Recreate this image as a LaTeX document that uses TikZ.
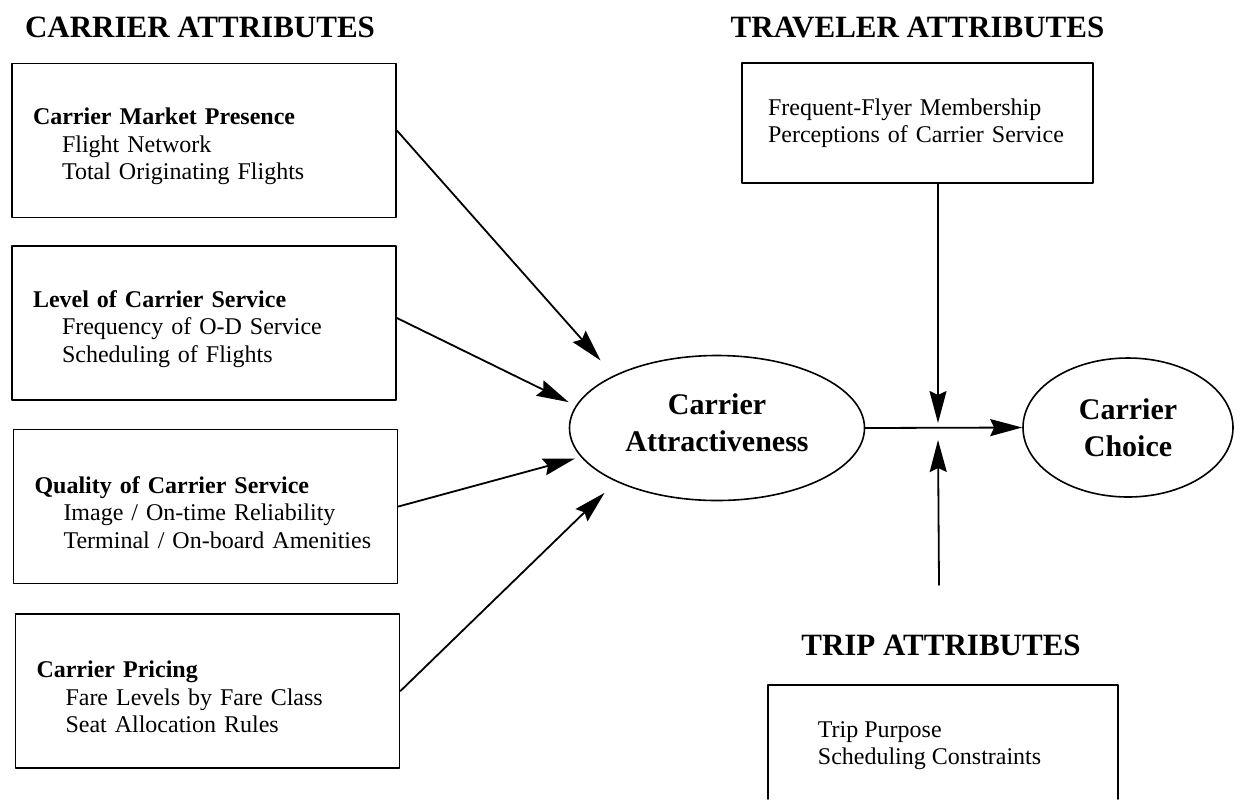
\documentclass[tikz,border=0pt]{standalone}
\usepackage{fontspec}
\setmainfont{Liberation Serif}
\usetikzlibrary{arrows.meta,shapes.geometric}
\begin{document}
\begin{tikzpicture}[x=0.5pt,y=-0.5pt,line join=round,line cap=round,line width=0.9pt,
	>={Stealth[length=16pt,width=8.5pt,inset=2pt]},
	attrbox/.style={draw,minimum height=77pt,text width=171pt,inner xsep=10.5pt,align=left,font=\fontsize{12}{13.75}\selectfont},
	headline/.style={anchor=base,font=\fontsize{15.5}{18}\selectfont\bfseries},
	oval/.style={draw,ellipse,line width=0.8pt,inner sep=0pt,align=center,font=\fontsize{15}{18.5}\selectfont\bfseries}]
	\def\ind{\hspace*{14.5pt}}
	\def\lift{\rule{0pt}{14.5pt}}
	\useasboundingbox (0,0) rectangle (1241,799);
	%Tiêu đề
	\node[headline] (carhead) at (200,37) {CARRIER ATTRIBUTES};
	\node[headline] (travhead) at (917.5,37) {TRAVELER ATTRIBUTES};
	\node[headline] (triphead) at (941,655) {TRIP ATTRIBUTES};
	%Các hộp bên trái
	\node[attrbox] (mkt) at (204,140.5) {\lift\textbf{Carrier Market Presence}\\\ind Flight Network\\\ind Total Originating Flights};
	\node[attrbox] (lvl) at (204,323) {\lift\textbf{Level of Carrier Service}\\\ind Frequency of O-D Service\\\ind Scheduling of Flights};
	\node[attrbox] (qual) at (205.5,506.5) {\lift\textbf{Quality of Carrier Service}\\\ind Image / On-time Reliability\\\ind Terminal / On-board Amenities};
	\node[attrbox] (price) at (207.5,691) {\lift\textbf{Carrier Pricing}\\\ind Fare Levels by Fare Class\\\ind Seat Allocation Rules};
	%Hộp bên phải
	\node[attrbox,minimum height=60pt,text width=149.5pt,inner xsep=13pt] (trav) at (917.5,123) {Frequent-Flyer Membership\\Perceptions of Carrier Service};
	\draw (768,799) -- (768,685) -- (1118,685) -- (1118,799);
	\node[anchor=north west,inner sep=0pt,align=left,font=\fontsize{12}{13.75}\selectfont] (trip) at (817,720.5) {Trip Purpose\\Scheduling Constraints};
	%Hai hình elip
	\node[oval,minimum width=147.5pt,minimum height=72.5pt] (att) at (717,428) {Carrier\\Attractiveness\rule[-5pt]{0pt}{0pt}};
	\node[oval,minimum width=105pt,minimum height=69.5pt] (cc) at (1128,427.5) {Carrier\\Choice};
	%Các mũi tên
	\draw[->,shorten >=10pt] ([yshift=5pt]mkt.east) -- (att.153);
	\draw[->,shorten >=4pt] ([yshift=2.5pt]lvl.east) -- (att.171);
	\draw[->,shorten >=3pt] (qual.east) -- (att.192);
	\draw[->,shorten >=8pt] (price.east) -- (att.208);
	\draw[->] (att.east) -- (cc.west);
	\coordinate (j) at (938,427);
	\coordinate (tripend) at (939,585);
	\draw[->] (trav.south -| j) -- ([yshift=2pt]j);
	\draw[->] (tripend) -- ([yshift=-6.5pt]j);
\end{tikzpicture}
\end{document}
